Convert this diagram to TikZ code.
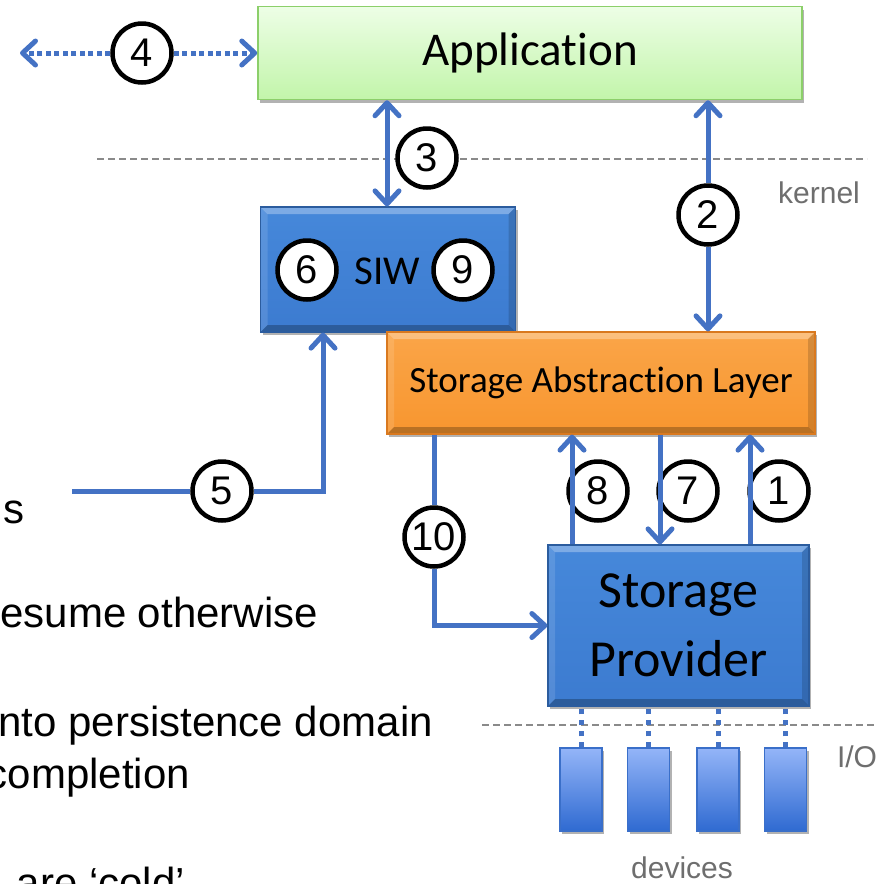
\documentclass[tikz,border=0pt]{standalone}
\usepackage{fontspec}
\setmainfont{Liberation Sans}
\newfontfamily\calibri[Ligatures=NoCommon]{Carlito}
\usetikzlibrary{arrows.meta,shadows,calc}
\definecolor{flowblue}{HTML}{4472C4}
\definecolor{appTop}{HTML}{EDFEE6}
\definecolor{appBot}{HTML}{C2F5AA}
\definecolor{appLine}{HTML}{8CCF6A}
\definecolor{boxBlue}{HTML}{3C7BD0}
\definecolor{boxBlueTop}{HTML}{4688DA}
\definecolor{boxBlueLine}{HTML}{2B5C9E}
\definecolor{salFill}{HTML}{F8962F}
\definecolor{salTop}{HTML}{FAA548}
\definecolor{salLine}{HTML}{D9791F}
\definecolor{devTop}{HTML}{94B5F8}
\definecolor{devBot}{HTML}{2F6AD1}
\definecolor{devLine}{HTML}{3A6FC9}
\definecolor{txtgray}{HTML}{6E6E6E}
\definecolor{dashgray}{HTML}{8A8A8A}
\tikzset{
  >={Straight Barb[length=13pt,width=24pt,round]},
  shadowed/.style={drop shadow={shadow xshift=2pt,shadow yshift=-3pt,opacity=.3,fill=black}},
  bevel/.style={path picture={
    \fill[white,opacity=.30] (path picture bounding box.north west) -- (path picture bounding box.north east)
      -- ([xshift=-#1,yshift=-#1]path picture bounding box.north east) -- ([xshift=#1,yshift=-#1]path picture bounding box.north west) -- cycle;
    \fill[white,opacity=.12] (path picture bounding box.north west) -- ([xshift=#1,yshift=-#1]path picture bounding box.north west)
      -- ([xshift=#1,yshift=#1]path picture bounding box.south west) -- (path picture bounding box.south west) -- cycle;
    \fill[black,opacity=.25] (path picture bounding box.south west) -- (path picture bounding box.south east)
      -- ([xshift=-#1,yshift=#1]path picture bounding box.south east) -- ([xshift=#1,yshift=#1]path picture bounding box.south west) -- cycle;
    \fill[black,opacity=.15] (path picture bounding box.north east) -- (path picture bounding box.south east)
      -- ([xshift=-#1,yshift=#1]path picture bounding box.south east) -- ([xshift=-#1,yshift=-#1]path picture bounding box.north east) -- cycle;
  }},
  appbox/.style={shadowed,draw=appLine,line width=1.5pt,top color=appTop,bottom color=appBot,inner sep=0pt,
    minimum width=544pt,minimum height=93pt,font=\calibri\fontsize{47}{50}\selectfont},
  bluebox/.style={shadowed,draw=boxBlueLine,line width=1.2pt,top color=boxBlueTop,bottom color=boxBlue,inner sep=0pt,bevel=7pt},
  salbox/.style={shadowed,draw=salLine,line width=1.2pt,top color=salTop,bottom color=salFill,inner sep=0pt,bevel=7pt,
    minimum width=428pt,minimum height=102pt,font=\calibri\fontsize{37}{40}\selectfont},
  devbox/.style={shadowed,draw=devLine,line width=1.5pt,top color=devTop,bottom color=devBot,inner sep=0pt,
    minimum width=42pt,minimum height=83pt},
  num/.style={circle,draw=black,line width=4.5pt,fill=white,minimum size=59pt,inner sep=0pt,
    font=\fontsize{40}{40}\selectfont},
  flow/.style={draw=flowblue,line width=5pt},
  dotflow/.style={flow,dash pattern=on 5pt off 3.5pt},
  devdot/.style={draw=flowblue,line width=5pt,dash pattern=on 5pt off 6pt},
  sepline/.style={draw=dashgray,line width=2pt,dash pattern=on 7pt off 4pt},
  graytxt/.style={text=txtgray,inner sep=0pt,font=\fontsize{30}{30}\selectfont},
  bodytxt/.style={inner sep=0pt,anchor=base east,font=\fontsize{42}{42}\selectfont},
}
\begin{document}
\begin{tikzpicture}[x=1pt,y=-1pt]
\path[use as bounding box,clip] (0,0) rectangle (883,884);

% separator lines
\coordinate (k1) at (97,159);
\coordinate (k2) at (867,159);
\draw[sepline] (k1) -- (k2);
\coordinate (io1) at (482,725);
\coordinate (io2) at (874,725);
\draw[sepline] (io1) -- (io2);
\node[graytxt] (kernel) at (819,193) {kernel};
\node[graytxt] (io) at (857,757) {I/O};
\node[graytxt,anchor=base] (devices) at (682,878) {devices};

% boxes
\node[appbox] (app) at (530,53) {Application};
\node[bluebox,minimum width=255pt,minimum height=125pt] (siw) at (388,269.5) {};
\node[salbox] (sal) at (601,383) {Storage Abstraction Layer};
\node[bluebox,minimum width=261pt,minimum height=161pt,align=center,
      font=\calibri\fontsize{52}{69}\selectfont] (sp) at (678.5,625.5) {Storage\\Provider};
\node[font=\calibri\fontsize{41}{41}\selectfont,inner sep=0pt] (siwtxt) at (387,271) {SIW};

% devices
\node[devbox] (dev1) at (581,789.5) {};
\node[devbox] (dev2) at (648.5,789.5) {};
\node[devbox] (dev3) at (718,789.5) {};
\node[devbox] (dev4) at (785.5,789.5) {};
\foreach \d in {dev1,dev2,dev3,dev4}
  \draw[devdot] (\d.north) -- (\d.north |- sp.south);

% x positions of connectors
\coordinate (x3) at (387,0);
\coordinate (x2) at (708,0);
\coordinate (x5) at (323,0);
\coordinate (x10) at (434,0);
\coordinate (x8) at (572,0);
\coordinate (x7) at (660,0);
\coordinate (x1) at (750,0);
\coordinate (s5) at (72,491);
\coordinate (l4) at (20,53);

% circles
\node[num] (c4) at (142,53) {4};
\node[num] (c3) at (427,158) {3};
\node[num] (c2) at (708,215) {2};
\node[num] (c6) at (307,270) {6};
\node[num] (c9) at (463,270) {9};
\node[num] (c5) at (222,491) {5};
\node[num] (c10) at (434,537) {10};
\node[num] (c8) at (598,491) {8};
\node[num] (c7) at (688,491) {7};
\node[num] (c1) at (779,491) {1};

% connectors
\draw[dotflow,->] (c4.west) -- (l4);
\draw[dotflow,->] (c4.east) -- (app.west);
\draw[flow,<->] (app.south -| x3) -- (siw.north -| x3);
\draw[flow] (s5) -- (c5.west);
\draw[flow,->] (c5.east) -| (siw.south -| x5);
\draw[flow,<-] (app.south -| x2) -- (c2.north);
\draw[flow,->] (c2.south) -- (sal.north -| x2);
\draw[flow] (sal.south -| x10) -- (c10.north);
\draw[flow,->] (c10.south) |- (sp.west);
\draw[flow,->] (sp.north -| x8) -- (sal.south -| x8);
\draw[flow,->] (sal.south -| x7) -- (sp.north -| x7);
\draw[flow,->] (sp.north -| x1) -- (sal.south -| x1);

% clipped body text on the left
\node[bodytxt] (t1) at (25,523) {s};
\node[bodytxt] (t2) at (318,627) {esume otherwise};
\node[bodytxt] (t3) at (433,736) {nto persistence domain};
\node[bodytxt] (t4) at (190,788) {completion};
\node[bodytxt] (t5) at (185,897) {are ‘cold’};
\end{tikzpicture}
\end{document}
